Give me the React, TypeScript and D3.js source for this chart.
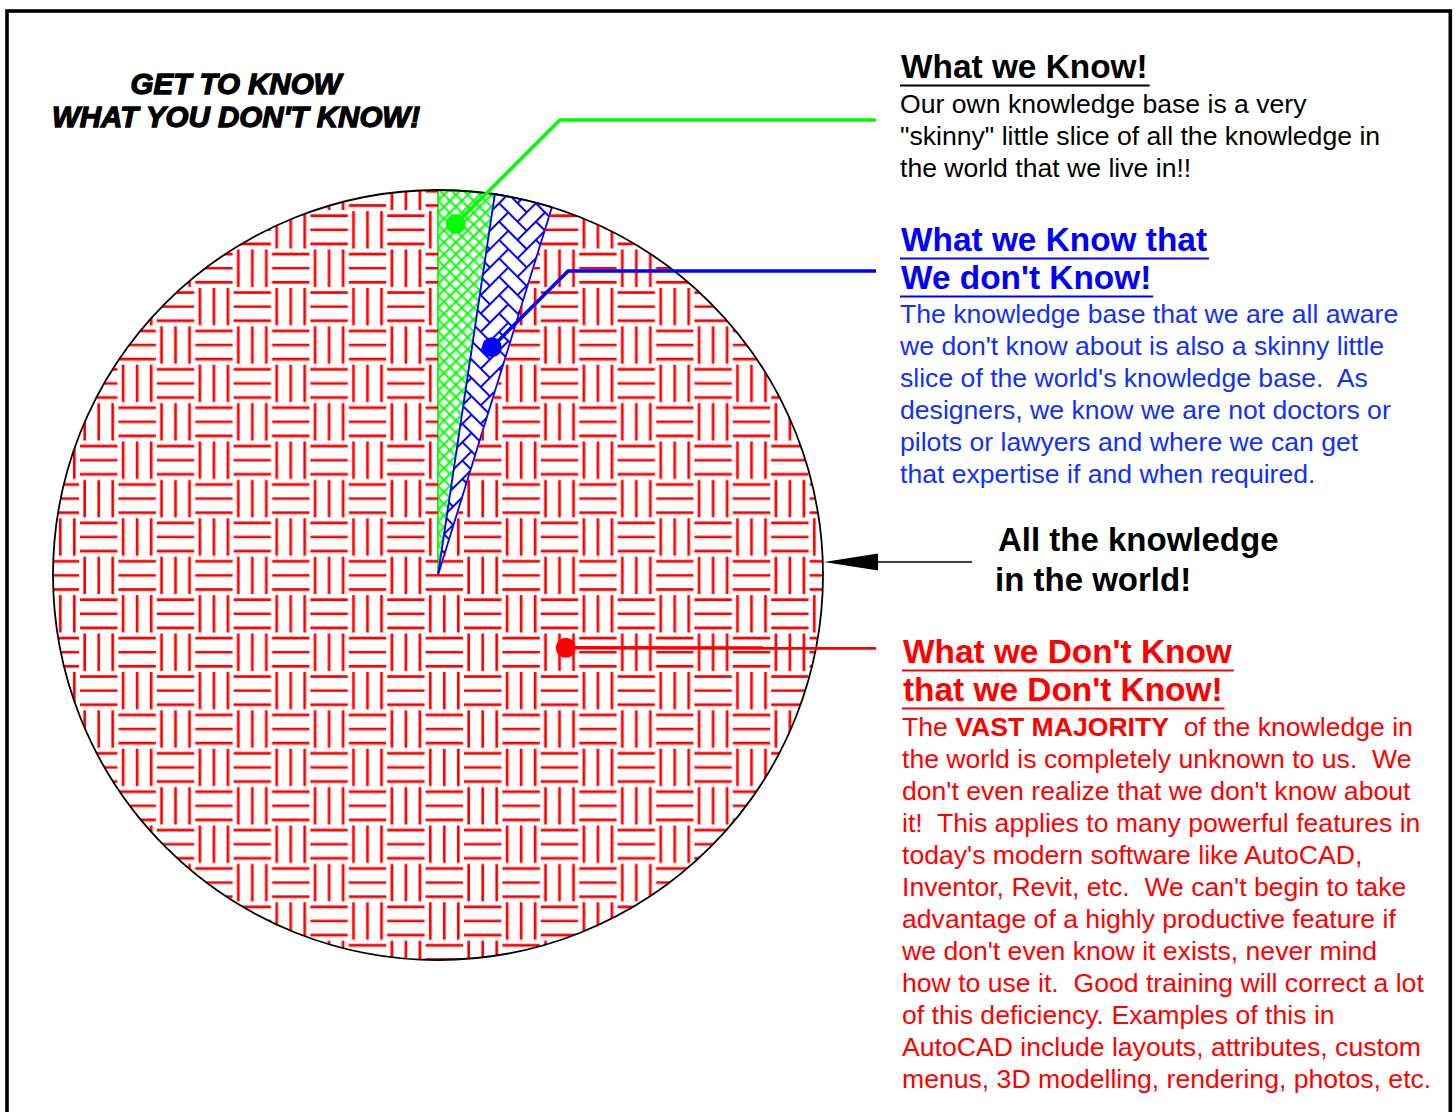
import React, { useEffect, useRef } from "react";
import * as d3 from "d3";

// slices of "all the knowledge in the world" (percent of circle)
const sliceLabels = [
  "What we Know",
  "What we Know that We don't Know",
  "What we Don't Know that we Don't Know",
];
const sliceValues = [2.36, 2.42, 95.22];

// leader dot inside each slice: angle (deg clockwise from top) and share of radius
const dotAngles = [2.9, 13.3, 119.7];
const dotRadii = [0.913, 0.608, 0.382];
// height where each leader line runs over to its text
const leaderY = [120, 271, 648];

const mainTitle = ["GET TO KNOW", "WHAT YOU DON'T KNOW!"];

const knowTitle = ["What we Know!"];
const knowText = [
  "Our own knowledge base is a very",
  "\"skinny\" little slice of all the knowledge in",
  "the world that we live in!!",
];

const awareTitle = ["What we Know that", "We don't Know!"];
const awareText = [
  "The knowledge base that we are all aware",
  "we don't know about is also a skinny little",
  "slice of the world's knowledge base.  As",
  "designers, we know we are not doctors or",
  "pilots or lawyers and where we can get",
  "that expertise if and when required.",
];

const worldTitle = ["All the knowledge", "in the world!"];

const unknownTitle = ["What we Don't Know", "that we Don't Know!"];
const unknownText = [
  "The **VAST MAJORITY**  of the knowledge in",
  "the world is completely unknown to us.  We",
  "don't even realize that we don't know about",
  "it!  This applies to many powerful features in",
  "today's modern software like AutoCAD,",
  "Inventor, Revit, etc.  We can't begin to take",
  "advantage of a highly productive feature if",
  "we don't even know it exists, never mind",
  "how to use it.  Good training will correct a lot",
  "of this deficiency. Examples of this in",
  "AutoCAD include layouts, attributes, custom",
  "menus, 3D modelling, rendering, photos, etc.",
];

const FONT = "'Liberation Sans', Arial, sans-serif";
const GREEN = "#00ff00";
const BLUE = "#0000ff";
const RED = "#ff0000";

const App = () => {
  const ref = useRef<SVGSVGElement>(null);

  useEffect(() => {
    document.body.style.margin = "0";
    const svg = d3.select(ref.current);
    svg.selectAll("*").remove();

    const cx = 438,
      cy = 575,
      R = 385;

    const defs = svg.append("defs");

    // green cross hatch
    const gs = 8.4;
    const gp = defs
      .append("pattern")
      .attr("id", "pat-green")
      .attr("patternUnits", "userSpaceOnUse")
      .attr("width", gs)
      .attr("height", gs)
      .attr("patternTransform", "rotate(45)");
    gp.append("path")
      .attr("d", `M0,${gs / 2}H${gs}M${gs / 2},0V${gs}`)
      .attr("stroke", GREEN)
      .attr("stroke-width", 2);

    // blue herringbone
    const u = 13;
    const bp = defs
      .append("pattern")
      .attr("id", "pat-blue")
      .attr("patternUnits", "userSpaceOnUse")
      .attr("width", 4 * u)
      .attr("height", 4 * u)
      .attr("patternTransform", "translate(438,575) rotate(45)");
    for (let k = 0; k < 4; k++) {
      for (let m = -1; m <= 1; m++) {
        for (let n = -1; n <= 1; n++) {
          const x = (k + 4 * m) * u;
          const y = (k + 4 * n) * u;
          bp.append("rect")
            .attr("x", x)
            .attr("y", y)
            .attr("width", 2 * u)
            .attr("height", u)
            .attr("fill", "none")
            .attr("stroke", BLUE)
            .attr("stroke-width", 1.8);
          bp.append("rect")
            .attr("x", x)
            .attr("y", y + u)
            .attr("width", u)
            .attr("height", 2 * u)
            .attr("fill", "none")
            .attr("stroke", BLUE)
            .attr("stroke-width", 1.8);
        }
      }
    }

    // red basket weave
    const c = 38.4;
    const rp = defs
      .append("pattern")
      .attr("id", "pat-red")
      .attr("patternUnits", "userSpaceOnUse")
      .attr("x", 217.5)
      .attr("y", 288.4)
      .attr("width", 2 * c)
      .attr("height", 2 * c);
    const offs = [c / 2 - 14, c / 2, c / 2 + 14];
    [
      [0, 0, "h"],
      [1, 0, "v"],
      [0, 1, "v"],
      [1, 1, "h"],
    ].forEach(([i, j, dir]) => {
      const x0 = (i as number) * c,
        y0 = (j as number) * c;
      offs.forEach((o) => {
        const d =
          dir === "h"
            ? `M${x0 + 0.5},${y0 + o}h${c - 1}`
            : `M${x0 + o},${y0 + 0.5}v${c - 1}`;
        rp.append("path")
          .attr("d", d)
          .attr("stroke", RED)
          .attr("stroke-width", 2.7);
      });
    });

    // frame
    svg
      .append("rect")
      .attr("x", 7)
      .attr("y", 11)
      .attr("width", 1443.3)
      .attr("height", 1115)
      .attr("fill", "none")
      .attr("stroke", "#000")
      .attr("stroke-width", 3.6);

    const pie = d3
      .pie<number>()
      .sort(null)
      .startAngle(0)
      .endAngle(2 * Math.PI);
    const arcs = pie(sliceValues);
    const arc = d3.arc<d3.PieArcDatum<number>>().innerRadius(0).outerRadius(R);

    const g = svg.append("g").attr("transform", `translate(${cx},${cy})`);

    const fills = ["url(#pat-green)", "url(#pat-blue)", "url(#pat-red)"];
    const strokes = [GREEN, BLUE, "none"];

    // small slices first, leaders, then the red slice on top (as in original)
    [0, 1].forEach((i) => {
      g.append("path")
        .attr("d", arc(arcs[i]) as string)
        .attr("fill", "#fff")
        .attr("stroke", "none");
      g.append("path")
        .attr("d", arc(arcs[i]) as string)
        .attr("fill", fills[i])
        .attr("stroke", strokes[i])
        .attr("stroke-width", 1.8)
        .attr("stroke-linejoin", "round")
        .append("title")
        .text(sliceLabels[i]);
    });

    const leaderColors = [GREEN, BLUE, RED];
    const endX = 876;
    arcs.forEach((a, i) => {
      const ang = (dotAngles[i] * Math.PI) / 180;
      const rr = dotRadii[i] * R;
      const dx = cx + rr * Math.sin(ang);
      const dy = cy - rr * Math.cos(ang);
      const rise = dy - leaderY[i];
      const pts: [number, number][] = [[dx, dy]];
      if (Math.abs(rise) > 1) pts.push([dx + rise, leaderY[i]]);
      pts.push([endX, leaderY[i]]);
      svg
        .append("path")
        .attr("d", d3.line()(pts) as string)
        .attr("fill", "none")
        .attr("stroke", leaderColors[i])
        .attr("stroke-width", 3.5)
        .attr("stroke-linejoin", "miter");
      svg
        .append("circle")
        .attr("cx", dx)
        .attr("cy", dy)
        .attr("r", 10)
        .attr("fill", leaderColors[i]);
    });

    g.append("path")
      .attr("d", arc(arcs[2]) as string)
      .attr("fill", fills[2])
      .attr("stroke", "none")
      .append("title")
      .text(sliceLabels[2]);

    g.append("circle")
      .attr("r", R)
      .attr("fill", "none")
      .attr("stroke", "#000")
      .attr("stroke-width", 1.8);

    // arrow to the circle edge
    svg
      .append("line")
      .attr("x1", cx + R + 40)
      .attr("x2", 972)
      .attr("y1", 562)
      .attr("y2", 562)
      .attr("stroke", "#000")
      .attr("stroke-width", 1.6);
    svg
      .append("path")
      .attr(
        "d",
        `M${cx + R + 1},562L${cx + R + 55},553.5L${cx + R + 55},570.5Z`
      )
      .attr("fill", "#000");

    // big italic title
    mainTitle.forEach((t, i) => {
      svg
        .append("text")
        .attr("x", 236)
        .attr("y", 94 + i * 33)
        .attr("text-anchor", "middle")
        .attr("font-family", FONT)
        .attr("font-weight", "bold")
        .attr("font-style", "italic")
        .attr("font-size", 29.5)
        .attr("stroke", "#000")
        .attr("stroke-width", 1.3)
        .attr("fill", "#000")
        .text(t);
    });

    const heading = (
      lines: string[],
      x: number,
      y0: number,
      color: string,
      underline: boolean
    ) => {
      lines.forEach((t, i) => {
        const y = y0 + i * 38;
        const txt = svg
          .append("text")
          .attr("x", x)
          .attr("y", y)
          .attr("font-family", FONT)
          .attr("font-weight", "bold")
          .attr("font-size", 33.4)
          .attr("fill", color)
          .text(t);
        if (underline) {
          const len = (txt.node() as SVGTextElement).getComputedTextLength();
          svg
            .append("line")
            .attr("x1", x - 1)
            .attr("x2", x + len + 2)
            .attr("y1", y + 7.5)
            .attr("y2", y + 7.5)
            .attr("stroke", color)
            .attr("stroke-width", 2);
        }
      });
    };

    const body = (lines: string[], x: number, y0: number, color: string) => {
      lines.forEach((t, i) => {
        const txt = svg
          .append("text")
          .attr("x", x)
          .attr("y", y0 + i * 32)
          .attr("font-family", FONT)
          .attr("font-size", 26.6)
          .attr("fill", color)
          .style("white-space", "pre");
        t.split("**").forEach((part, k) => {
          txt
            .append("tspan")
            .attr("font-weight", k % 2 === 1 ? "bold" : "normal")
            .text(part);
        });
      });
    };

    heading(knowTitle, 901, 78, "#000", true);
    body(knowText, 900, 113, "#000");

    heading(awareTitle, 901, 251, BLUE, true);
    body(awareText, 900, 323, "#1030ff");

    svg
      .append("text")
      .attr("x", 998)
      .attr("y", 551)
      .attr("font-family", FONT)
      .attr("font-weight", "bold")
      .attr("font-size", 33)
      .text(worldTitle[0]);
    svg
      .append("text")
      .attr("x", 995)
      .attr("y", 591)
      .attr("font-family", FONT)
      .attr("font-weight", "bold")
      .attr("font-size", 33)
      .text(worldTitle[1]);

    heading(unknownTitle, 903, 663, RED, true);
    body(unknownText, 902, 736, RED);
  }, []);

  return (
    <svg
      ref={ref}
      width={1456}
      height={1112}
      style={{ display: "block", background: "#fff" }}
    ></svg>
  );
};

export default App;
